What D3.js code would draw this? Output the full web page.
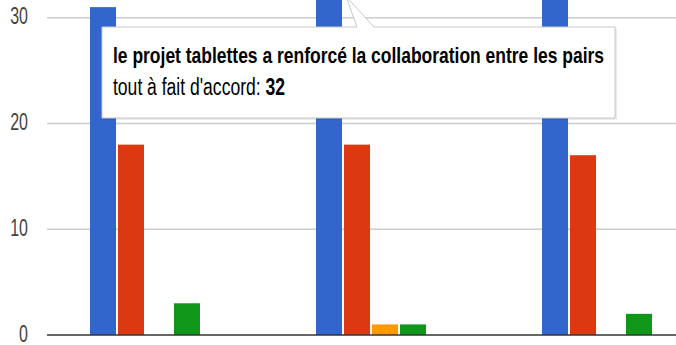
<!DOCTYPE html>
<html>
<head>
<meta charset="utf-8">
<script src="https://cdn.jsdelivr.net/npm/d3@7"></script>
<style>
  body { margin: 0; background: #fff; }
  svg { display: block; font-family: "Liberation Sans", Arial, sans-serif; }
</style>
</head>
<body>
<svg id="chart"></svg>
<script>
// data
const categories = ["groupe 1", "le projet tablettes a renforcé la collaboration entre les pairs", "groupe 3"];
const seriesNames = ["tout à fait d'accord", "d'accord", "pas d'accord", "pas du tout d'accord"];
const colors = ["#3366cc", "#dc3912", "#ff9900", "#109618"];
const toutAFait = [31, 32, 33];
const daccord = [18, 18, 17];
const pasDaccord = [0, 1, 0];
const pasDuTout = [3, 1, 2];
const yTicks = [0, 10, 20, 30];

let w = 676;
let h = 345;
const sy = 1.55; // picture is stretched vertically, text too

let svg = d3.select('#chart').attr('width', w).attr('height', h);

let table = categories.map((c, i) => ({
  cat: c,
  vals: [toutAFait[i], daccord[i], pasDaccord[i], pasDuTout[i]]
}));

let x0 = d3.scaleBand().domain(categories).range([32, 710]);
let x1 = d3.scaleBand().domain(seriesNames).range([-55, 55]).paddingInner(0.07);
let y = d3.scaleLinear().domain([0, 30]).range([335, 17.7]);

// gridlines
svg.append('g').selectAll('line')
  .data(yTicks.filter(d => d > 0))
  .enter().append('line')
  .attr('x1', 47).attr('x2', w)
  .attr('y1', d => y(d)).attr('y2', d => y(d))
  .attr('stroke', '#cccccc').attr('stroke-width', 1.5);

// tick labels
svg.append('g').selectAll('text')
  .data(yTicks)
  .enter().append('text')
  .attr('transform', d => `translate(28, ${y(d) + 6.5}) scale(1, ${sy})`)
  .attr('text-anchor', 'end')
  .attr('fill', '#444')
  .style('font-size', '16px')
  .text(d => d);

// bars
let groups = svg.append('g').selectAll('g')
  .data(table)
  .enter().append('g')
  .attr('transform', d => `translate(${x0(d.cat) + x0.bandwidth() / 2}, 0)`);

groups.selectAll('rect')
  .data(d => d.vals.map((v, i) => ({ key: seriesNames[i], v: v, i: i })))
  .enter().append('rect')
  .attr('x', d => x1(d.key))
  .attr('width', x1.bandwidth())
  .attr('y', d => y(d.v))
  .attr('height', d => y(0) - y(d.v))
  .attr('fill', d => colors[d.i]);

// baseline
svg.append('line')
  .attr('x1', 47).attr('x2', w)
  .attr('y1', y(0)).attr('y2', y(0))
  .attr('stroke', '#333').attr('stroke-width', 1.5);

// tooltip on blue bar of 2nd group
let tipCat = categories[1];
let ax = x0(tipCat) + x0.bandwidth() / 2 + x1(seriesNames[0]) + x1.bandwidth() + 4;
let tip = svg.append('g');

let bx = 102, by = 27, bw = 513, bh = 91;

tip.append('rect')
  .attr('x', bx + 2).attr('y', by + 2)
  .attr('width', bw).attr('height', bh)
  .attr('fill', '#000').attr('opacity', 0.08);

tip.append('path')
  .attr('d', `M${bx},${by} H${ax + 11} L${ax},${y(toutAFait[1])} L${ax + 28},${by} H${bx + bw} V${by + bh} H${bx} Z`)
  .attr('fill', '#fff')
  .attr('stroke', '#c8c8c8')
  .attr('stroke-width', 1);

tip.append('text')
  .attr('transform', `translate(113, 63) scale(1, ${sy})`)
  .attr('font-weight', 'bold')
  .attr('fill', '#000')
  .style('font-size', '14px')
  .attr('textLength', 491)
  .attr('lengthAdjust', 'spacingAndGlyphs')
  .text(tipCat);

let t2 = tip.append('text')
  .attr('transform', `translate(113, 95) scale(1, ${sy})`)
  .attr('fill', '#000')
  .style('font-size', '15px')
  .attr('textLength', 172)
  .attr('lengthAdjust', 'spacingAndGlyphs');
t2.append('tspan').text(seriesNames[0] + ': ');
t2.append('tspan').attr('font-weight', 'bold').text(toutAFait[1]);
</script>
</body>
</html>
